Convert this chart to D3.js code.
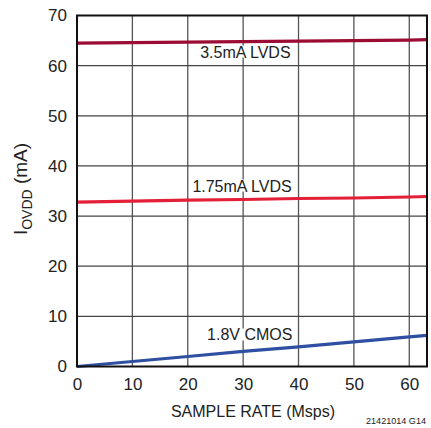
<!DOCTYPE html>
<html><head><meta charset="utf-8">
<script src="https://cdn.jsdelivr.net/npm/d3@7"></script>
<style>
html,body{margin:0;padding:0;background:#fff;}
svg{display:block;}
text{font-family:"Liberation Sans Narrow","Liberation Sans",Arial,sans-serif;fill:#222;}
</style></head>
<body>
<svg id="c" width="431" height="428"></svg>
<script>
const sampleRate = [0, 10, 20, 30, 40, 50, 60, 63.2];
const lvds35 = [64.5, 64.6, 64.7, 64.8, 64.9, 65.0, 65.1, 65.2];
const lvds175 = [32.8, 33.0, 33.2, 33.3, 33.5, 33.6, 33.8, 33.9];
const cmos18 = [0, 1.0, 2.0, 3.0, 3.9, 4.9, 5.9, 6.2];
const seriesNames = ["3.5mA LVDS", "1.75mA LVDS", "1.8V CMOS"];
const xTicks = [0, 10, 20, 30, 40, 50, 60];
const yTicks = [0, 10, 20, 30, 40, 50, 60, 70];

const svg = d3.select("#c");
const L = 77, R = 427, T = 15.5, B = 366.5;
const x = d3.scaleLinear().domain([0, 63.2]).range([L, R]);
const y = d3.scaleLinear().domain([0, 70]).range([B, T]);

// grid
const g = svg.append("g");
g.selectAll("line.v").data(xTicks.slice(1)).join("line")
  .attr("x1", d => x(d)).attr("x2", d => x(d)).attr("y1", T).attr("y2", B)
  .attr("stroke", "#555").attr("stroke-width", 1.3);
g.selectAll("line.h").data(yTicks.slice(1, -1)).join("line")
  .attr("x1", L).attr("x2", R).attr("y1", d => y(d)).attr("y2", d => y(d))
  .attr("stroke", "#444").attr("stroke-width", 1.3);

// axes (labels only)
const ff = '"Liberation Sans Narrow","Liberation Sans",sans-serif';
const xAxis = d3.axisBottom(x).tickValues(xTicks).tickSize(0).tickPadding(11);
const xg = svg.append("g").attr("transform", `translate(0,${B})`).call(xAxis);
xg.select(".domain").remove();
xg.selectAll("text").attr("font-size", 17).attr("fill", "#222").style("font-family", ff);
const yAxis = d3.axisLeft(y).tickValues(yTicks).tickSize(0).tickPadding(10);
const yg = svg.append("g").attr("transform", `translate(${L},0)`).call(yAxis);
yg.select(".domain").remove();
yg.selectAll("text").attr("font-size", 17).attr("fill", "#222").style("font-family", ff);

// series
const line = d3.line().x((d, i) => x(sampleRate[i])).y(d => y(d));
const series = [
  {vals: lvds35, color: "#9b0b33"},
  {vals: lvds175, color: "#e41f38"},
  {vals: cmos18, color: "#2f4fa2"}
];

// labels with white boxes
const labels = [
  {name: seriesNames[0], xv: 30.4, yv: lvds35[3], dy: 16},
  {name: seriesNames[1], xv: 29.8, yv: lvds175[3], dy: -8},
  {name: seriesNames[2], xv: 31.2, yv: cmos18[3], dy: -11}
];
const lg = svg.append("g");
labels.forEach(l => {
  const gg = lg.append("g");
  const r = gg.append("rect").attr("fill", "#fff");
  const t = gg.append("text").attr("x", x(l.xv)).attr("y", y(l.yv) + l.dy)
    .attr("text-anchor", "middle").attr("font-size", 16).text(l.name);
  const bb = t.node().getBBox();
  r.attr("x", bb.x - 1).attr("y", bb.y + 2).attr("width", bb.width + 2).attr("height", bb.height - 5);
});

series.forEach(s => {
  svg.append("path").datum(s.vals).attr("d", line).attr("fill", "none")
    .attr("stroke", s.color).attr("stroke-width", 3.2);
});

// frame
svg.append("rect").attr("x", L).attr("y", T).attr("width", R - L).attr("height", B - T)
  .attr("fill", "none").attr("stroke", "#111").attr("stroke-width", 2);

// axis titles
svg.append("text").attr("x", (L + R) / 2 + 1).attr("y", 417).attr("text-anchor", "middle")
  .attr("font-size", 16).text("SAMPLE RATE (Msps)");
const yt = svg.append("text").attr("transform", `translate(27,${(T + B) / 2 - 2}) rotate(-90)`)
  .attr("text-anchor", "middle").attr("font-size", 19);
yt.append("tspan").text("I");
yt.append("tspan").attr("font-size", 14).attr("dy", 5).text("OVDD");
yt.append("tspan").attr("dy", -5).text(" (mA)");

svg.append("text").attr("x", 366).attr("y", 424).attr("font-size", 9.5)
  .attr("textLength", 60).attr("lengthAdjust", "spacingAndGlyphs").text("21421014 G14");
</script>
</body></html>
